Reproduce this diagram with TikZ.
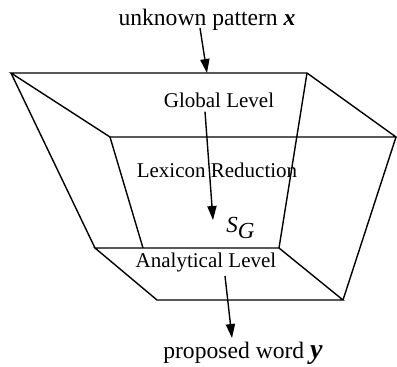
\documentclass[tikz,border=0pt]{standalone}
\usepackage{fontspec}
\setmainfont{Liberation Serif}
\usetikzlibrary{arrows.meta}

\begin{document}
\begin{tikzpicture}[x=0.5pt,y=-0.5pt,
  lbl/.style={inner sep=0pt,anchor=base,font=\fontsize{10.5}{12}\selectfont},
  io/.style={lbl,font=\fontsize{11.8}{14}\selectfont},
  edge/.style={line width=0.7pt,line join=miter},
  arr/.style={-{Triangle[length=7pt,width=4.6pt]},line width=0.7pt}]
\useasboundingbox (0,0) rectangle (397,366);
% corners of the frustum
\coordinate (tfl) at (11,73);
\coordinate (tfr) at (307,73);
\coordinate (tbr) at (396,137);
\coordinate (tbl) at (110,137);
\coordinate (bfl) at (95,248);
\coordinate (bfr) at (279,248);
\coordinate (bbr) at (343,300);
\coordinate (bbl) at (157,300);
\coordinate (bmid) at (143,248);
\draw[edge] (tfl) -- (tfr) -- (tbr) -- (tbl) -- cycle;
\draw[edge] (bfl) -- (bfr) -- (bbr) -- (bbl) -- cycle;
\draw[edge] (tfl) -- (bfl);
\draw[edge] (tfr) -- (bfr);
\draw[edge] (tbl) -- (bmid);
\draw[edge] (tbr) -- (bbr);
% labels
\node[io] (pattern) at (207,25) {unknown pattern \textbf{\textit{x}}};
\node[lbl] (global) at (219,107) {Global Level};
\node[lbl] (lexicon) at (217,177) {Lexicon Reduction};
\node[lbl,anchor=base west,font=\fontsize{11.5}{12}\selectfont] (sg) at (226,232) {$\textit{S}_{\textit{G}}$};
\node[lbl] (analytic) at (206,267) {Analytical Level};
\node[io] (word) at (243,358) {proposed word {\fontsize{14}{14}\selectfont\textbf{\textit{y}}}};
% flow
\coordinate (xin) at (200,28);
\coordinate (entry) at (207,73);
\coordinate (sgtip) at (213,220);
\coordinate (yout) at (232,338);
\draw[arr] (xin) -- (entry);
\draw[arr] ([xshift=-7pt,yshift=-2pt]global.south) -- (sgtip);
\draw[arr] ([xshift=9.5pt,yshift=-2pt]analytic.south) -- (yout);
\end{tikzpicture}
\end{document}
